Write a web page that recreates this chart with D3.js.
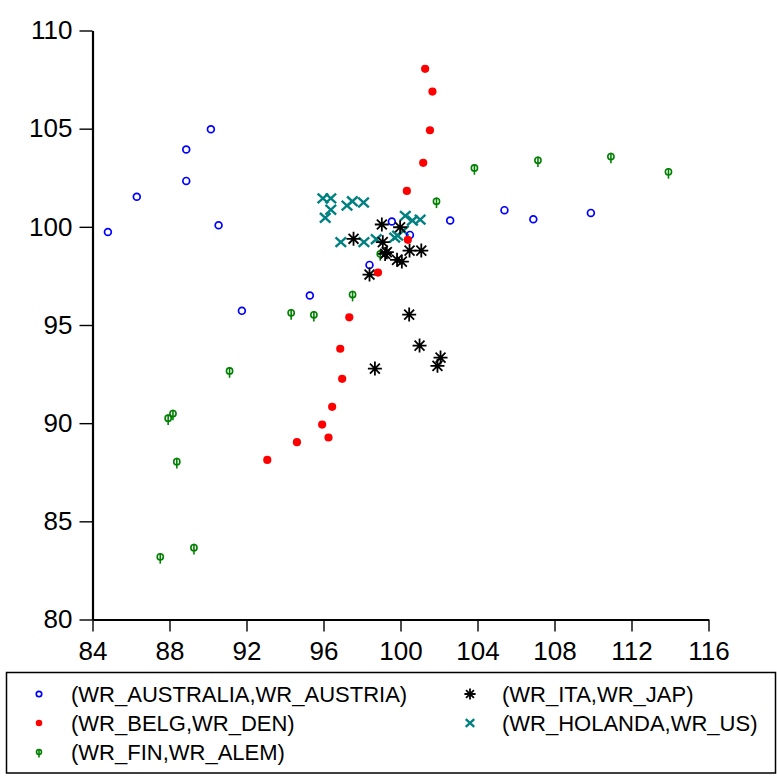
<!DOCTYPE html>
<html>
<head>
<meta charset="utf-8">
<script src="https://cdn.jsdelivr.net/npm/d3@7"></script>
<style>
  body { margin: 0; background: #fff; }
  svg { display: block; font-family: 'Liberation Sans', Arial, sans-serif; }
</style>
</head>
<body>
<div id="app"></div>
<script>
(function (d3) {
  'use strict'

  // series values (x = first name, y = second name)
  const ausX = [90.15, 88.87, 88.87, 86.3, 84.8, 90.55, 95.29, 91.76, 99.55, 100.49, 98.39, 102.58, 105.4, 106.9, 109.89]
  const ausY = [104.97, 103.94, 102.34, 101.53, 99.74, 100.08, 96.5, 95.72, 100.27, 99.59, 98.06, 100.32, 100.85, 100.39, 100.71]

  const belX = [101.28, 101.66, 101.53, 101.18, 100.33, 100.38, 98.83, 97.34, 96.87, 96.97, 96.45, 95.93, 96.26, 94.62, 93.08]
  const belY = [108.05, 106.89, 104.92, 103.26, 101.83, 99.34, 97.67, 95.39, 93.79, 92.26, 90.83, 89.93, 89.27, 89.03, 88.13]

  const finX = [103.84, 107.14, 110.93, 113.92, 101.87, 97.51, 98.95, 94.32, 95.5, 91.12, 88.18, 87.93, 88.38, 89.27, 87.52]
  const finY = [103.0, 103.39, 103.58, 102.8, 101.3, 96.55, 98.62, 95.62, 95.52, 92.66, 90.49, 90.25, 88.04, 83.66, 83.19]

  const itaX = [99.03, 99.98, 97.56, 99.08, 99.29, 99.2, 100.47, 101.08, 99.82, 100.07, 98.39, 100.45, 100.99, 98.67, 102.08, 101.92]
  const itaY = [100.12, 99.98, 99.39, 99.22, 98.71, 98.62, 98.79, 98.79, 98.32, 98.23, 97.57, 95.53, 93.95, 92.78, 93.34, 92.92]

  const holX = [95.97, 96.38, 96.38, 96.09, 97.22, 97.5, 98.08, 96.9, 98.1, 98.74, 100.25, 100.62, 101.02, 99.85, 100.15, 99.7]
  const holY = [101.45, 101.45, 100.87, 100.46, 101.08, 101.3, 101.24, 99.22, 99.22, 99.37, 100.56, 100.32, 100.37, 99.55, 99.8, 99.45]

  const xTicks = [84, 88, 92, 96, 100, 104, 108, 112, 116]
  const yTicks = [80, 85, 90, 95, 100, 105, 110]

  const seriesNames = ['(WR_AUSTRALIA,WR_AUSTRIA)', '(WR_BELG,WR_DEN)', '(WR_FIN,WR_ALEM)', '(WR_ITA,WR_JAP)', '(WR_HOLANDA,WR_US)']
  const seriesMarks = ['circle', 'dot', 'phi', 'star', 'cross']
  const seriesColors = ['#0000ff', '#ff0000', '#008000', '#000000', '#008080']
  const seriesX = [ausX, belX, finX, itaX, holX]
  const seriesY = [ausY, belY, finY, itaY, holY]
  // drawing order, bottom first
  const drawOrder = [4, 0, 2, 3, 1]

  const w = 777
  const h = 782

  const x = d3.scaleLinear().domain([84, 116]).range([92.5, 708.5])
  const y = d3.scaleLinear().domain([80, 110]).range([619.5, 30.5])

  const svg = d3.select('#app')
    .append('svg')
    .attr('width', w)
    .attr('height', h)

  const xAxis = svg.append('g')
    .attr('transform', 'translate(0,' + y(80) + ')')
    .call(d3.axisBottom(x).tickValues(xTicks).tickSize(12).tickSizeOuter(0).tickPadding(10))
  xAxis.select('.domain').attr('stroke-width', 2.2)
  xAxis.selectAll('.tick line').attr('stroke-width', 1.4)
  xAxis.selectAll('text').attr('font-size', 26).attr('font-family', "'Liberation Sans', Arial, sans-serif").attr('fill', '#000')

  const yAxis = svg.append('g')
    .attr('transform', 'translate(' + x(84) + ',0)')
    .call(d3.axisLeft(y).tickValues(yTicks).tickSize(13).tickSizeOuter(0).tickPadding(7))
  yAxis.select('.domain').attr('stroke-width', 2.2)
  yAxis.selectAll('.tick line').attr('stroke-width', 1.4)
  yAxis.selectAll('text').attr('font-size', 26).attr('font-family', "'Liberation Sans', Arial, sans-serif").attr('fill', '#000')

  // one marker shape, scaled by k
  const drawMarker = function (g, type, color, k) {
    if (type === 'circle') {
      g.append('circle').attr('r', 3.4 * k).attr('fill', 'none').attr('stroke', color).attr('stroke-width', 1.7)
    } else if (type === 'dot') {
      g.append('circle').attr('r', 4.1 * k).attr('fill', color)
    } else if (type === 'phi') {
      g.append('circle').attr('r', 3.1 * k).attr('fill', 'none').attr('stroke', color).attr('stroke-width', 1.6)
      g.append('line').attr('x1', 0).attr('x2', 0).attr('y1', -3.8 * k).attr('y2', 6.8 * k)
        .attr('stroke', color).attr('stroke-width', 1.6)
    } else if (type === 'star') {
      const r = 7 * k
      const d = r * Math.SQRT1_2
      g.append('path')
        .attr('d', 'M' + -r + ',0L' + r + ',0M0,' + -r + 'L0,' + r +
          'M' + -d + ',' + -d + 'L' + d + ',' + d + 'M' + -d + ',' + d + 'L' + d + ',' + -d)
        .attr('stroke', color).attr('stroke-width', 1.8).attr('fill', 'none')
    } else if (type === 'cross') {
      const a = 5.3 * k
      const b = 4.8 * k
      g.append('path')
        .attr('d', 'M' + -a + ',' + -b + 'L' + a + ',' + b + 'M' + -a + ',' + b + 'L' + a + ',' + -b)
        .attr('stroke', color).attr('stroke-width', 2.4).attr('fill', 'none')
    }
  }

  const plot = svg.append('g')
  drawOrder.forEach(function (s) {
    const pts = seriesX[s].map(function (v, i) { return { x: v, y: seriesY[s][i] } })
    plot.append('g')
      .selectAll('g')
      .data(pts)
      .enter().append('g')
      .attr('transform', function (d) { return 'translate(' + x(d.x) + ',' + y(d.y) + ')' })
      .each(function () { drawMarker(d3.select(this), seriesMarks[s], seriesColors[s], 1) })
  })

  // legend
  const legend = svg.append('g')
  legend.append('rect')
    .attr('x', 6.5).attr('y', 672.5)
    .attr('width', 769).attr('height', 100.5)
    .attr('fill', 'none').attr('stroke', '#000').attr('stroke-width', 1.5)

  const legendPos = [[39, 694], [39, 723], [39, 752], [470, 694], [470, 723]]
  seriesNames.forEach(function (name, i) {
    const item = legend.append('g')
    const m = item.append('g').attr('transform', 'translate(' + legendPos[i][0] + ',' + legendPos[i][1] + ')')
    drawMarker(m, seriesMarks[i], seriesColors[i], 0.8)
    item.append('text')
      .attr('x', legendPos[i][0] + 32)
      .attr('y', legendPos[i][1])
      .attr('dy', '0.36em')
      .attr('font-size', 22)
      .attr('fill', '#000')
      .text(name)
  })

}(d3))
</script>
</body>
</html>
